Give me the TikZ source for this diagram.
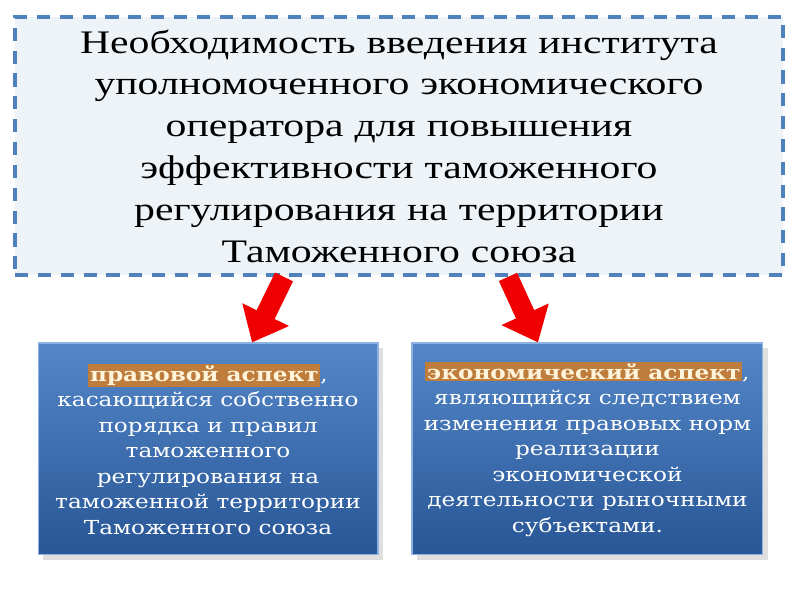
\documentclass[tikz,border=0pt]{standalone}
\usepackage{fontspec}
\setmainfont{Liberation Serif}
\newfontfamily\titlefont[FakeStretch=1.27]{Liberation Serif}
\newfontfamily\boxfont[FakeStretch=1.2]{DejaVu Serif}
\usetikzlibrary{arrows.meta, shadows}

\definecolor{dashblue}{RGB}{79,129,189}
\definecolor{paleblue}{RGB}{238,243,248}
\definecolor{boxtop}{RGB}{84,135,200}
\definecolor{boxbottom}{RGB}{40,86,150}
\definecolor{boxedge}{RGB}{141,179,226}
\definecolor{glow}{RGB}{190,125,60}
\definecolor{cream}{RGB}{255,244,218}
\definecolor{arrowred}{RGB}{240,0,0}

\newcommand{\aspect}[1]{{\setlength{\fboxsep}{1pt}\colorbox{glow}{\textcolor{cream}{\bfseries #1}}}}

\begin{document}
\begin{tikzpicture}
	  [x=0.02cm, y=-0.02cm, node distance = 6.06cm,
	  %
	  titleblock/.style={rectangle, draw=dashblue, line width=2.2pt, dash pattern=on 7.5pt off 5.5pt, fill=paleblue, minimum width=15.36cm, minimum height=5.16cm, text width=14.8cm, align=center, font=\titlefont\fontsize{18.7}{23.8}\selectfont},
	  %
	  aspectblock/.style={rectangle, draw=boxedge, line width=0.6pt, top color=boxtop, bottom color=boxbottom, minimum height=4.24cm, inner sep=2pt, align=center, text=white, font=\boxfont\fontsize{11}{14.5}\selectfont, drop shadow={opacity=0.25, shadow xshift=3pt, shadow yshift=-3pt}},
	  %
	  redarrow/.style={draw=arrowred, line width=0.4cm, arrows={-Triangle[width=1cm, length=0.62cm]}}]

	    \useasboundingbox (0,0) rectangle (800,600);

	    \node [titleblock] (title) at (399,146) {Необходимость введения института\\ уполномоченного экономического\\ оператора для повышения\\ эффективности таможенного\\ регулирования на территории\\ Таможенного союза};
	    \node [aspectblock, below of=title, xshift=-3.82cm, minimum width=6.8cm] (legal) {\aspect{правовой аспект},\\ касающийся собственно\\ порядка и правил\\ таможенного\\ регулирования на\\ таможенной территории\\ Таможенного союза};
	    \node [aspectblock, below of=title, xshift=3.77cm, minimum width=7.02cm] (econ) {\aspect{экономический аспект},\\ являющийся следствием\\ изменения правовых норм\\ реализации\\ экономической\\ деятельности рыночными\\ субъектами.};

	    \draw [redarrow] ([xshift=-2.3cm]title.south) -- ([xshift=0.88cm]legal.north);
	    \draw [redarrow] ([xshift=2.18cm]title.south) -- ([xshift=-0.99cm]econ.north);
	  \end{tikzpicture}
\end{document}
